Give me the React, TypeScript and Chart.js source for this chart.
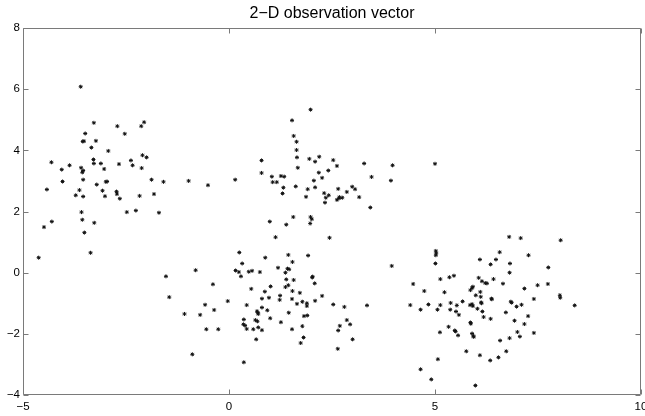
import React, { useEffect, useRef } from "react";
import { Chart, registerables } from "chart.js";

Chart.register(...registerables);

const TITLE = "2\u2212D observation vector";
const X_MIN = -5;
const X_MAX = 10;
const X_STEP = 5;
const Y_MIN = -4;
const Y_MAX = 8;
const Y_STEP = 2;

const clusterTopLeft: [number, number][] = [
  [-3.6, 6.08], [-3.28, 4.9], [-2.71, 4.79], [-2.06, 4.92], [-2.13, 4.79], [-3.49, 4.55], [-2.53, 4.54],
  [-3.55, 4.29], [-3.52, 4.3], [-3.23, 4.31], [-3.34, 4.09], [-2.93, 3.98], [-4.31, 3.61], [-3.87, 3.51],
  [-4.06, 3.37], [-3.59, 3.43], [-3.29, 3.7], [-3.28, 3.57], [-3.11, 3.57], [-3.54, 3.34], [-3.56, 3.28],
  [-3.03, 3.39], [-2.67, 3.55], [-2.38, 3.67], [-2.34, 3.51], [-2.1, 3.84], [-2.0, 3.77], [-2.12, 3.42],
  [-1.88, 3.04], [-1.59, 2.97], [-4.04, 2.98], [-3.54, 3.04], [-3.21, 2.88], [-2.96, 2.98], [-2.99, 2.97],
  [-4.42, 2.72], [-3.63, 2.7], [-3.07, 2.68], [-2.73, 2.65], [-2.72, 2.57], [-3.72, 2.53], [-3.54, 2.49],
  [-3.01, 2.5], [-2.65, 2.42], [-2.17, 2.51], [-1.82, 2.57], [-3.58, 1.98], [-2.48, 1.98], [-2.26, 2.03],
  [-1.7, 1.96], [-4.3, 1.67], [-4.49, 1.49], [-3.56, 1.73], [-3.27, 1.63], [-3.51, 1.31], [-3.36, 0.65],
  [-4.62, 0.49],
];

const clusterTopMiddle: [number, number][] = [
  [1.98, 5.33], [1.53, 4.98], [1.57, 4.47], [1.64, 4.28], [1.64, 4.01], [1.65, 3.77], [0.79, 3.67],
  [1.95, 3.72], [2.09, 3.63], [2.19, 3.79], [2.53, 3.68], [2.62, 3.49], [3.28, 3.57], [3.97, 3.51],
  [1.67, 3.43], [0.79, 3.26], [1.04, 3.14], [1.26, 3.16], [1.34, 3.14], [2.18, 3.27], [2.41, 3.34],
  [2.26, 3.1], [2.06, 3.01], [1.06, 2.96], [1.16, 2.96], [-0.98, 3.0], [-0.51, 2.86], [0.15, 3.04],
  [1.32, 2.78], [1.62, 2.82], [1.91, 2.73], [2.09, 2.79], [2.65, 2.74], [2.99, 2.81], [3.06, 2.73],
  [2.86, 2.64], [2.31, 2.6], [2.42, 2.53], [2.35, 2.45], [2.68, 2.47], [2.75, 2.45], [2.62, 2.38],
  [2.67, 2.43], [3.16, 2.47], [1.3, 2.59], [1.87, 2.48], [2.33, 2.29], [3.46, 3.13], [3.93, 3.01],
  [3.43, 2.13], [1.56, 1.82], [1.98, 1.82], [2.01, 1.75], [0.99, 1.67], [1.39, 1.57], [1.97, 1.61],
  [1.13, 1.16], [2.44, 1.14], [5.0, 3.56],
];

const clusterBottomMiddle: [number, number][] = [
  [0.25, 0.66], [0.88, 0.49], [1.44, 0.58], [1.92, 0.56], [1.54, 0.35], [0.32, 0.3], [1.19, 0.16],
  [1.42, 0.13], [1.46, 0.11], [1.37, 0.0], [0.16, 0.07], [0.24, 0.02], [0.48, 0.03], [0.56, 0.06],
  [0.75, 0.02], [0.29, -0.12], [-0.81, 0.08], [-1.53, -0.12], [2.03, -0.13], [2.02, -0.16], [1.39, -0.22],
  [1.57, -0.24], [2.08, -0.35], [-0.39, -0.38], [1.01, -0.45], [1.44, -0.41], [1.37, -0.47], [0.54, -0.53],
  [0.87, -0.62], [1.54, -0.6], [1.72, -0.66], [-1.45, -0.8], [-0.03, -0.93], [0.8, -0.85], [0.97, -0.82],
  [1.24, -0.75], [1.23, -0.89], [1.53, -0.86], [2.26, -0.76], [2.09, -0.92], [1.65, -1.02], [1.78, -0.95],
  [1.89, -1.0], [1.89, -1.09], [2.53, -1.04], [2.8, -1.12], [3.35, -1.07], [-0.58, -1.05], [-0.36, -1.22],
  [0.43, -1.06], [0.8, -1.14], [0.68, -1.26], [0.7, -1.31], [0.71, -1.35], [0.93, -1.23], [-1.08, -1.35],
  [-0.7, -1.38], [1.45, -1.31], [1.82, -1.42], [1.9, -1.4], [1.0, -1.49], [0.36, -1.53], [0.64, -1.55],
  [0.69, -1.59], [1.26, -1.62], [2.86, -1.55], [2.94, -1.69], [2.69, -1.74], [0.35, -1.69], [0.39, -1.73],
  [0.43, -1.84], [0.59, -1.85], [0.71, -1.79], [0.8, -1.88], [1.53, -1.85], [1.78, -1.75], [-0.55, -1.85],
  [-0.26, -1.85], [2.65, -1.89], [0.66, -2.18], [1.81, -2.12], [1.74, -2.3], [3.0, -2.18], [2.64, -2.49],
  [-0.89, -2.67], [0.36, -2.93], [3.95, 0.22],
];

const clusterBottomRight: [number, number][] = [
  [6.8, 1.17], [7.08, 1.13], [8.05, 1.06], [5.02, 0.71], [5.03, 0.64], [5.02, 0.57], [5.01, 0.3],
  [6.57, 0.67], [6.09, 0.43], [6.48, 0.43], [6.35, 0.27], [7.27, 0.57], [6.82, 0.3], [6.81, 0.0],
  [7.75, 0.17], [5.13, -0.21], [5.35, -0.15], [5.46, -0.1], [6.06, -0.17], [6.14, -0.28], [6.22, -0.34],
  [6.26, -0.35], [6.42, -0.21], [6.65, -0.36], [4.47, -0.37], [4.74, -0.6], [5.23, -0.64], [5.86, -0.57],
  [5.9, -0.5], [5.92, -0.46], [6.1, -0.63], [5.99, -0.74], [6.11, -0.79], [6.37, -0.85], [6.38, -0.87],
  [6.84, -0.95], [6.86, -0.98], [7.1, -1.05], [6.98, -1.11], [7.17, -0.52], [7.49, -0.41], [7.74, -0.37],
  [7.4, -0.86], [8.03, -0.74], [8.04, -0.82], [8.39, -1.07], [4.4, -1.06], [4.65, -1.21], [4.84, -1.04],
  [5.13, -1.06], [5.06, -1.21], [5.38, -0.99], [5.53, -1.07], [5.67, -0.94], [5.37, -1.21], [5.51, -1.27],
  [5.58, -1.38], [5.85, -1.06], [5.9, -1.03], [5.92, -1.09], [6.03, -1.18], [6.15, -1.27], [6.12, -0.97],
  [6.13, -1.0], [6.18, -1.45], [6.35, -1.51], [6.72, -1.3], [6.93, -1.57], [7.17, -1.68], [7.26, -1.42],
  [5.86, -1.63], [5.87, -1.67], [5.33, -1.77], [5.48, -1.89], [5.5, -1.92], [5.56, -2.05], [5.12, -1.95],
  [5.9, -1.99], [5.93, -2.07], [5.94, -2.1], [7.0, -1.94], [7.06, -2.09], [7.4, -1.97], [6.81, -2.14],
  [6.58, -2.22], [5.76, -2.57], [6.09, -2.7], [6.34, -2.87], [6.54, -2.77], [6.73, -2.57], [5.07, -2.83],
  [4.65, -3.16], [4.91, -3.49], [5.98, -3.69],
];

const clusters = [clusterTopLeft, clusterTopMiddle, clusterBottomMiddle, clusterBottomRight];

const FONT = "'Liberation Sans', Arial, Helvetica, sans-serif";
const AXIS_COLOR = "#7a7a7a";
const TICK_LEN = 5;

const framePlugin = {
  id: "matlabFrame",
  afterDraw(chart: any) {
    const { ctx, chartArea: a, scales } = chart;
    const L = Math.round(a.left) + 0.5;
    const R = Math.round(a.right) - 0.5;
    const T = Math.round(a.top) + 0.5;
    const B = Math.round(a.bottom) - 0.5;
    ctx.save();
    ctx.strokeStyle = AXIS_COLOR;
    ctx.lineWidth = 1;
    ctx.beginPath();
    ctx.rect(L, T, R - L, B - T);
    ctx.stroke();
    ctx.beginPath();
    for (const t of scales.x.ticks) {
      const px = Math.round(scales.x.getPixelForValue(t.value)) + 0.5;
      ctx.moveTo(px, B);
      ctx.lineTo(px, B - TICK_LEN);
      ctx.moveTo(px, T);
      ctx.lineTo(px, T + TICK_LEN);
    }
    for (const t of scales.y.ticks) {
      const py = Math.round(scales.y.getPixelForValue(t.value)) + 0.5;
      ctx.moveTo(L, py);
      ctx.lineTo(L + TICK_LEN, py);
      ctx.moveTo(R, py);
      ctx.lineTo(R - TICK_LEN, py);
    }
    ctx.stroke();
    ctx.restore();
  },
};

const fmt = (v: number | string) => String(v).replace("-", "\u2212");

export default function App() {
  const ref = useRef<HTMLCanvasElement | null>(null);

  useEffect(() => {
    if (!ref.current) return;
    const chart = new Chart(ref.current, {
      type: "scatter",
      data: {
        datasets: clusters.map((c, i) => ({
          label: "cluster " + (i + 1),
          data: c.map(([x, y]) => ({ x, y })),
          pointStyle: "star",
          pointRadius: 2,
          pointBorderWidth: 1,
          borderColor: "#111",
          backgroundColor: "#111",
          pointHoverRadius: 2,
        })),
      },
      options: {
        animation: false,
        responsive: false,
        devicePixelRatio: 1,
        events: [],
        layout: { autoPadding: false, padding: { left: 0, right: 4, top: 0, bottom: 0 } },
        plugins: {
          legend: { display: false },
          tooltip: { enabled: false },
          title: {
            display: true,
            fullSize: false,
            text: TITLE,
            color: "#000",
            font: { family: FONT, size: 16, weight: "normal" },
            padding: { top: 3.5, bottom: 5.3 },
          },
        },
        scales: {
          x: {
            type: "linear",
            min: X_MIN,
            max: X_MAX,
            grid: { display: false, drawTicks: false },
            border: { display: false },
            ticks: {
              stepSize: X_STEP,
              color: "#000",
              padding: 5,
              maxRotation: 0,
              font: { family: FONT, size: 11.5 },
              callback: (v: any) => fmt(v),
            },
            afterFit: (s: any) => {
              s.height = 21;
              s.paddingLeft = 0;
              s.paddingRight = 0;
            },
          },
          y: {
            type: "linear",
            min: Y_MIN,
            max: Y_MAX,
            grid: { display: false, drawTicks: false },
            border: { display: false },
            ticks: {
              stepSize: Y_STEP,
              color: "#000",
              padding: 3,
              font: { family: FONT, size: 11.5 },
              callback: (v: any) => fmt(v),
            },
            afterFit: (s: any) => {
              s.width = 23;
              s.paddingTop = 0;
              s.paddingBottom = 0;
            },
          },
        },
      },
      plugins: [framePlugin],
    } as any);
    return () => chart.destroy();
  }, []);

  return (
    <div style={{ position: "fixed", left: 0, top: 0, width: 645, height: 416, background: "#fff" }}>
      <canvas ref={ref} width={645} height={416} style={{ display: "block" }} />
    </div>
  );
}
